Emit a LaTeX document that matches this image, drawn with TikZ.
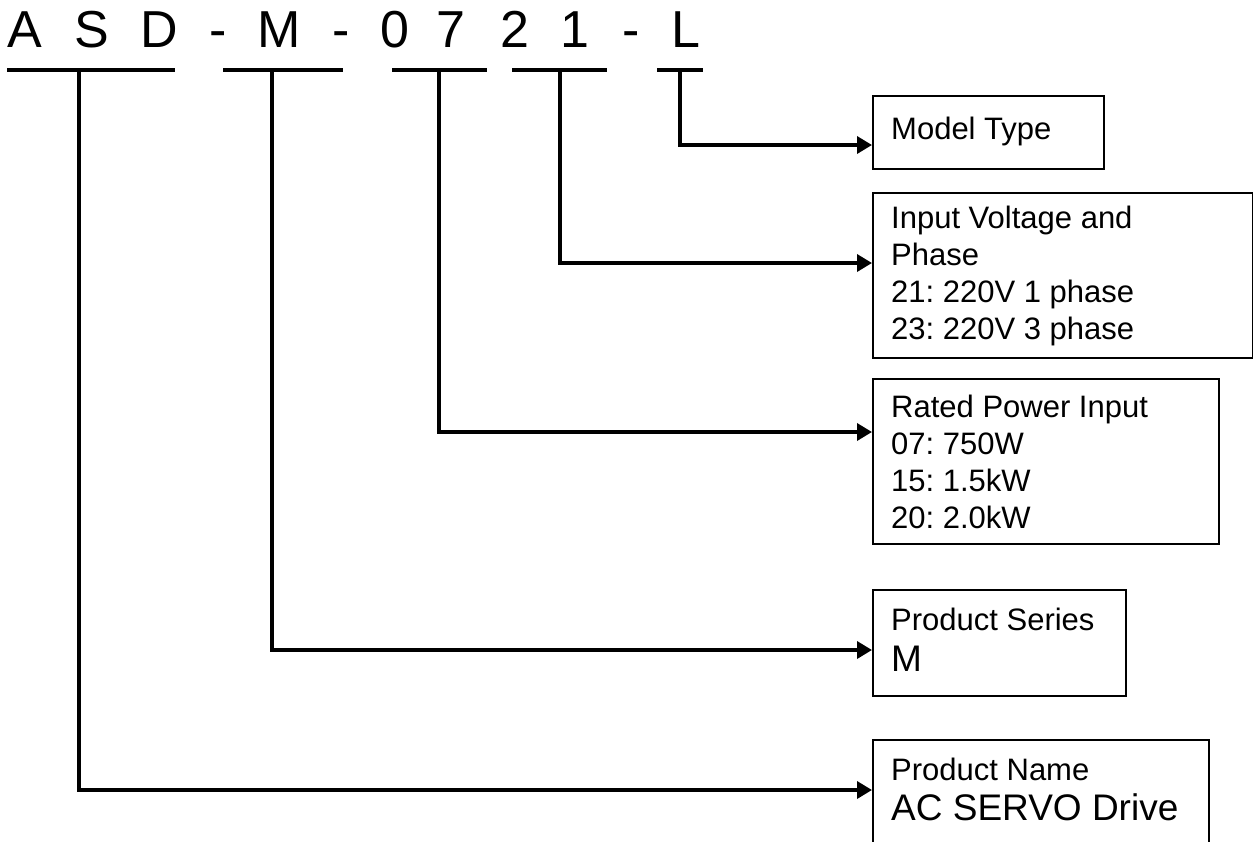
\documentclass[tikz,border=0pt]{standalone}
\usepackage{fontspec}
\setmainfont{Liberation Sans}
\usetikzlibrary{arrows.meta}
\frenchspacing
\begin{document}
\begin{tikzpicture}[x=1pt,y=-1pt,
  bar/.style={fill=black, draw=none, inner sep=0pt, minimum height=4.5pt},
  box/.style={draw=black, line width=1.5pt, inner sep=0pt, anchor=north west},
  conn/.style={line width=3.5pt, line join=miter, -{Triangle[length=15pt,width=17pt]}},
  ch/.style={inner sep=0pt, anchor=base, font=\fontsize{52}{62}\selectfont},
  lbl/.style={inner sep=0pt, anchor=base west, font=\fontsize{31}{37}\selectfont},
  big/.style={inner sep=0pt, anchor=base west, font=\fontsize{37}{44}\selectfont}]
\useasboundingbox (0,0) rectangle (1253,841);
\clip (0,0) rectangle (1253,841);
% title code, one character per node
\node[ch] (c1) at (25,47) {A};
\node[ch] (c2) at (91.5,47) {S};
\node[ch] (c3) at (159.5,47) {D};
\node[ch] (c4) at (218,47) {-};
\node[ch] (c5) at (279,47) {M};
\node[ch] (c6) at (341,47) {-};
\node[ch] (c7) at (395,47) {0};
\node[ch] (c8) at (451,47) {7};
\node[ch] (c9) at (514.5,47) {2};
\node[ch] (c10) at (575,47) {1};
\node[ch] (c11) at (631.5,47) {-};
\node[ch] (c12) at (686,47) {L};
% underline bars
\node[bar, minimum width=168pt] (bASD) at (91,70) {};
\node[bar, minimum width=120pt] (bM) at (283,70) {};
\node[bar, minimum width=95pt] (b07) at (439.5,70) {};
\node[bar, minimum width=95pt] (b21) at (559.5,70) {};
\node[bar, minimum width=46pt] (bL) at (680,70) {};
% boxes
\node[box, minimum width=231pt, minimum height=73pt] (bxL) at (872,95) {};
\node[box, minimum width=380pt, minimum height=165pt] (bx21) at (872,192) {};
\node[box, minimum width=346pt, minimum height=165pt] (bx07) at (872,378) {};
\node[box, minimum width=253pt, minimum height=106pt] (bxM) at (872,589) {};
\node[box, minimum width=336pt, minimum height=130pt] (bxASD) at (872,739) {};
% box texts
\node[lbl] (tL1) at (891,139) {Model Type};
\node[lbl] (t211) at (891,228) {Input Voltage and};
\node[lbl] (t212) at (891,265) {Phase};
\node[lbl] (t213) at (891,302) {21: 220V 1 phase};
\node[lbl] (t214) at (891,339) {23: 220V 3 phase};
\node[lbl] (t071) at (891,417) {Rated Power Input};
\node[lbl] (t072) at (891,454) {07: 750W};
\node[lbl] (t073) at (891,491) {15: 1.5kW};
\node[lbl] (t074) at (891,528) {20: 2.0kW};
\node[lbl] (tM1) at (891,630) {Product Series};
\node[big] (tM2) at (891,671) {M};
\node[lbl] (tA1) at (891,780) {Product Name};
\node[big] (tA2) at (891,820) {AC SERVO Drive};
% arrow targets on the box edges
\coordinate (aL) at (872,145);
\coordinate (a21) at (872,263);
\coordinate (a07) at (872,432);
\coordinate (aM) at (872,650);
\coordinate (aASD) at (872,790);
% connectors
\draw[conn] (bL.south) |- (aL);
\draw[conn] ([xshift=0.5pt]b21.south) |- (a21);
\draw[conn] ([xshift=-0.5pt]b07.south) |- (a07);
\draw[conn] ([xshift=-11pt]bM.south) |- (aM);
\draw[conn] ([xshift=-12pt]bASD.south) |- (aASD);
\end{tikzpicture}
\end{document}
